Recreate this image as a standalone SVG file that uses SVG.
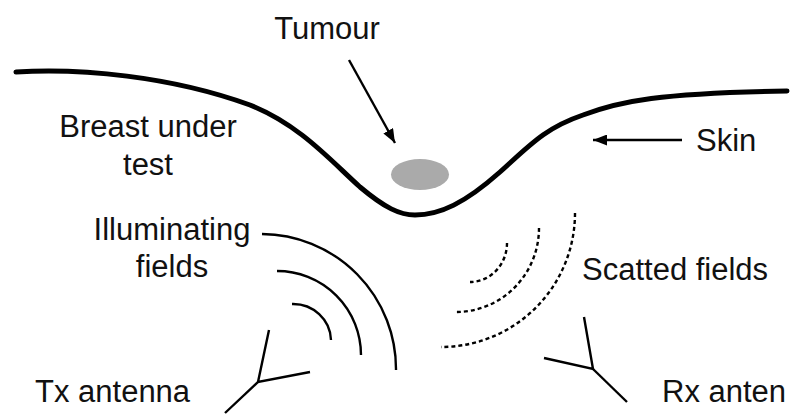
<svg xmlns="http://www.w3.org/2000/svg" width="793" height="417" viewBox="0 0 793 417">
  <style>
    .lbl { font-family: "Liberation Sans", Arial, sans-serif; font-size: 31px; fill: #111; }
    .thin { fill: none; stroke: #000; stroke-width: 2.4; stroke-linecap: butt; }
    .dot { fill: none; stroke: #000; stroke-width: 2.4; stroke-dasharray: 4 3; }
    .skin { fill: none; stroke: #000; stroke-width: 5; stroke-linecap: round; }
  </style>
  <defs>
    <marker id="head" viewBox="0 0 14 11" refX="14" refY="5.5" markerWidth="14" markerHeight="11" markerUnits="userSpaceOnUse" orient="auto">
      <path d="M0,0 L14,5.5 L0,11 Z" fill="#000"/>
    </marker>
  </defs>
  <rect width="793" height="417" fill="#fff"/>

  <g id="skin">
    <path class="skin" d="M16,72 C80,68 170,76 250,105 C300,125 330,160 360,187 C385,208 400,215 415,215 C440,215 465,203 500,172 C530,145 545,128 583,115 C620,101 660,93 787,91"/>
  </g>

  <g id="tumour">
    <ellipse cx="420" cy="174.5" rx="29" ry="15.5" fill="#aaaaaa"/>
  </g>

  <g id="connectors">
    <line class="thin" x1="349" y1="60" x2="395" y2="143" marker-end="url(#head)"/>
    <line class="thin" x1="682" y1="140" x2="593" y2="140" marker-end="url(#head)"/>
  </g>

  <g id="illuminating-fields">
    <path class="thin" d="M262,234 A135,135 0 0 1 396,370"/>
    <path class="thin" d="M277,271 A84,84 0 0 1 361,355"/>
    <path class="thin" d="M292,304 A38,37 0 0 1 331,340"/>
  </g>

  <g id="scattered-fields">
    <path class="dot" d="M507,243 A37,39 0 0 1 470,282"/>
    <path class="dot" d="M539,228 A83,84 0 0 1 456,312"/>
    <path class="dot" d="M575,213 A134,134 0 0 1 441,347"/>
  </g>

  <g id="tx-antenna">
    <polyline class="thin" points="269,330 258,382 310,372"/>
    <line class="thin" x1="258" y1="382" x2="225" y2="413"/>
  </g>

  <g id="rx-antenna">
    <polyline class="thin" points="584,317 593,369 544,358"/>
    <line class="thin" x1="593" y1="369" x2="627" y2="402"/>
  </g>

  <g id="labels">
    <text class="lbl" x="327" y="39" text-anchor="middle">Tumour</text>
    <text class="lbl" x="148" y="137" text-anchor="middle">Breast under</text>
    <text class="lbl" x="148" y="175" text-anchor="middle">test</text>
    <text class="lbl" x="696" y="151">Skin</text>
    <text class="lbl" x="172" y="240" text-anchor="middle">Illuminating</text>
    <text class="lbl" x="172" y="277" text-anchor="middle">fields</text>
    <text class="lbl" x="582" y="280">Scatted fields</text>
    <text class="lbl" x="35" y="402">Tx antenna</text>
    <text class="lbl" x="662" y="402">Rx anten</text>
  </g>
</svg>
